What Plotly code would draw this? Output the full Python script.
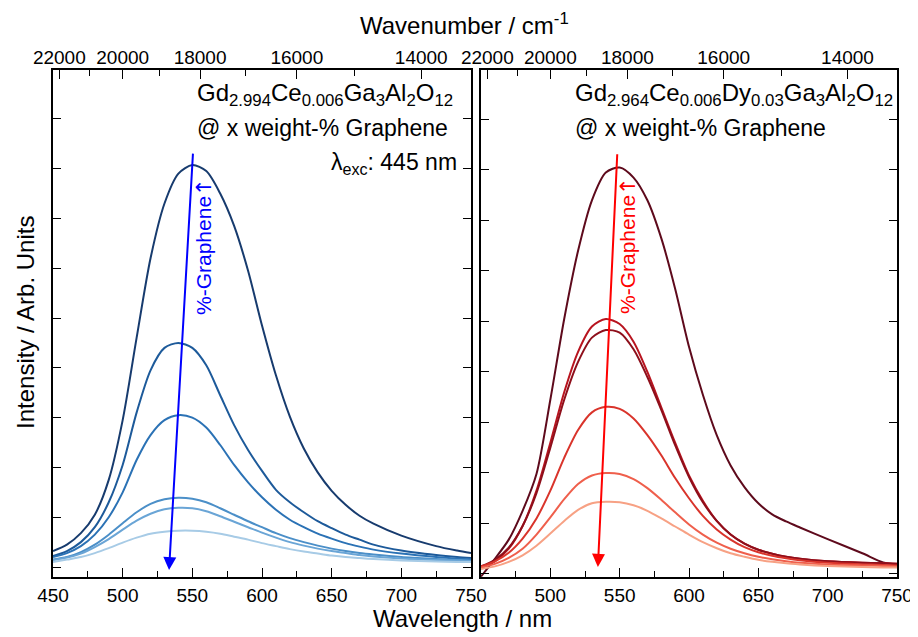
import plotly.graph_objects as go

# ---------------- data ----------------
wavelength = [450, 460, 470, 480, 490, 500, 510, 520, 530, 540, 550, 560, 570, 580,
              590, 600, 610, 620, 630, 640, 650, 660, 670, 680, 700, 725, 740, 750]

# Left panel: Gd2.994Ce0.006Ga3Al2O12, increasing graphene content (dark -> light)
left_1 = [0.32, 0.45, 0.68, 1.05, 1.75, 2.95, 4.60, 6.20, 7.30, 7.90, 8.07, 7.95, 7.50, 6.85,
          5.95, 4.85, 3.85, 3.02, 2.38, 1.90, 1.53, 1.25, 1.03, 0.87, 0.63, 0.42, 0.33, 0.28]
left_2 = [0.22, 0.32, 0.50, 0.80, 1.30, 2.05, 3.10, 3.95, 4.40, 4.50, 4.40, 4.05, 3.45, 2.85,
          2.35, 1.93, 1.55, 1.30, 1.10, 0.92, 0.78, 0.65, 0.55, 0.45, 0.33, 0.24, 0.20, 0.18]
left_3 = [0.20, 0.28, 0.42, 0.65, 1.00, 1.50, 2.15, 2.65, 2.95, 3.05, 3.00, 2.80, 2.45, 2.05,
          1.70, 1.40, 1.15, 0.95, 0.80, 0.67, 0.57, 0.48, 0.41, 0.35, 0.27, 0.20, 0.17, 0.15]
left_4 = [0.15, 0.20, 0.30, 0.45, 0.65, 0.88, 1.10, 1.27, 1.36, 1.39, 1.37, 1.30, 1.18, 1.05,
          0.92, 0.80, 0.68, 0.58, 0.50, 0.43, 0.37, 0.32, 0.28, 0.25, 0.20, 0.16, 0.14, 0.13]
left_5 = [0.14, 0.19, 0.27, 0.40, 0.56, 0.75, 0.93, 1.07, 1.16, 1.19, 1.18, 1.12, 1.02, 0.91,
          0.80, 0.69, 0.59, 0.50, 0.43, 0.37, 0.32, 0.28, 0.24, 0.21, 0.17, 0.14, 0.13, 0.12]
left_6 = [0.10, 0.15, 0.20, 0.28, 0.38, 0.49, 0.59, 0.67, 0.71, 0.73, 0.73, 0.71, 0.67, 0.61,
          0.55, 0.48, 0.42, 0.36, 0.31, 0.27, 0.23, 0.20, 0.18, 0.16, 0.13, 0.11, 0.10, 0.10]

# Right panel: Gd2.964Ce0.006Dy0.03Ga3Al2O12
right_1 = [-0.05, 0.30, 0.68, 1.25, 1.98, 3.45, 5.05, 6.40, 7.40, 7.95, 8.05, 7.85, 7.40, 6.65,
           5.65, 4.50, 3.55, 2.75, 2.15, 1.72, 1.40, 1.18, 1.04, 0.92, 0.69, 0.41, 0.23, 0.19]
right_2 = [0.12, 0.25, 0.50, 0.95, 1.65, 2.60, 3.60, 4.40, 4.90, 5.05, 4.95, 4.60, 4.00, 3.30,
           2.60, 1.95, 1.45, 1.05, 0.78, 0.60, 0.48, 0.40, 0.34, 0.30, 0.25, 0.22, 0.21, 0.20]
right_3 = [0.15, 0.28, 0.52, 0.95, 1.60, 2.50, 3.45, 4.20, 4.68, 4.83, 4.78, 4.45, 3.90, 3.25,
           2.55, 1.92, 1.42, 1.05, 0.78, 0.60, 0.48, 0.40, 0.34, 0.30, 0.25, 0.22, 0.21, 0.20]
right_4 = [0.15, 0.25, 0.42, 0.70, 1.10, 1.65, 2.30, 2.85, 3.20, 3.31, 3.27, 3.08, 2.75, 2.35,
           1.90, 1.50, 1.15, 0.88, 0.68, 0.53, 0.43, 0.36, 0.31, 0.27, 0.22, 0.19, 0.18, 0.17]
right_5 = [0.13, 0.20, 0.32, 0.50, 0.78, 1.12, 1.48, 1.78, 1.95, 2.00, 1.98, 1.88, 1.70, 1.47,
           1.22, 0.98, 0.78, 0.62, 0.50, 0.41, 0.34, 0.29, 0.25, 0.22, 0.19, 0.17, 0.16, 0.15]
right_6 = [0.10, 0.15, 0.24, 0.37, 0.56, 0.80, 1.05, 1.27, 1.40, 1.43, 1.42, 1.36, 1.25, 1.10,
           0.94, 0.78, 0.63, 0.51, 0.41, 0.34, 0.28, 0.24, 0.21, 0.19, 0.16, 0.14, 0.13, 0.13]

left_series = [left_1, left_2, left_3, left_4, left_5, left_6]
right_series = [right_1, right_2, right_3, right_4, right_5, right_6]

left_colors = ["#173b6e", "#1d5a9a", "#2b72b5", "#4b8fc8", "#6aa5d6", "#a7cbe6"]
right_colors = ["#5e0a1c", "#b8141f", "#8e0f1b", "#d9342b", "#ef5f4c", "#f7a184"]

bottom_ticks = [450, 500, 550, 600, 650, 700, 750]
bottom_minor = [475, 525, 575, 625, 675, 725]
wavenumber_ticks = [22000, 20000, 18000, 16000, 14000]
wavenumber_minor = [21000, 19000, 17000, 15000]

# ---------------- figure ----------------
FONT = "Liberation Sans, Arial, sans-serif"
fig = go.Figure()

for ys, c in zip(left_series, left_colors):
    fig.add_trace(go.Scatter(x=wavelength, y=ys, mode="lines", xaxis="x", yaxis="y",
                             line=dict(color=c, width=2, shape="spline", smoothing=0.8),
                             showlegend=False, hoverinfo="skip"))
for ys, c in zip(right_series, right_colors):
    fig.add_trace(go.Scatter(x=wavelength, y=ys, mode="lines", xaxis="x2", yaxis="y2",
                             line=dict(color=c, width=2, shape="spline", smoothing=0.8),
                             showlegend=False, hoverinfo="skip"))

# The page body adds an 8px margin; lay the figure out in page pixels minus that offset.
OFF = 8
PL, PR, PT, PB = 53, 897, 70, 577       # plot-area edges in page pixels
W, H = 918 - OFF, 637 - OFF
L, T = PL - OFF, PT - OFF
R = W - (PR - OFF)
B = H - (PB - OFF)
pw = PR - PL
ph = PB - PT
def px(x):
    return (x - PL) / pw
def py(y):
    return (PB - y) / ph

dom_left = [0, px(471)]
dom_right = [px(481), 1]

tickfont = dict(family=FONT, size=19, color="black")
common_x = dict(range=[450, 750], showline=True, linecolor="black", linewidth=1.5,
                ticks="inside", ticklen=9, tickwidth=1.2, tickcolor="black",
                showgrid=False, zeroline=False, tickfont=tickfont, mirror=True,
                ticklabelstandoff=0, ticklabeloverflow="allow",
                minor=dict(tickvals=bottom_minor, ticks="inside", ticklen=6,
                           tickwidth=1.2, tickcolor="black", showgrid=False))
wn_vals = [1e7 / w for w in wavenumber_ticks]
wn_minor = [1e7 / w for w in wavenumber_minor]
common_top = dict(range=[450, 750], side="top", showline=False, ticks="inside", ticklen=9,
                  tickwidth=1.2, tickcolor="black", showgrid=False, zeroline=False,
                  tickfont=tickfont, tickmode="array", tickvals=wn_vals,
                  ticktext=[str(w) for w in wavenumber_ticks], ticklabelstandoff=1,
                  minor=dict(tickvals=wn_minor, ticks="inside", ticklen=6,
                             tickwidth=1.2, tickcolor="black", showgrid=False))
common_y = dict(showline=True, linecolor="black", linewidth=1.5, mirror="ticks",
                ticks="inside", ticklen=8, tickwidth=1.2, tickcolor="black",
                showticklabels=False, showgrid=False, zeroline=False,
                tickmode="linear", tick0=0, dtick=1)

fig.update_layout(
    width=W, height=H, margin=dict(l=L, r=R, t=T, b=B, autoexpand=False),
    paper_bgcolor="white", plot_bgcolor="white",
    font=dict(family=FONT, color="black"),
    xaxis=dict(domain=dom_left, anchor="y", tickmode="array", tickvals=bottom_ticks,
               ticktext=[str(v) for v in bottom_ticks], **common_x),
    xaxis2=dict(domain=dom_right, anchor="y2", tickmode="array", tickvals=bottom_ticks,
                ticktext=[""] + [str(v) for v in bottom_ticks[1:]], **common_x),
    xaxis3=dict(overlaying="x", anchor="y", **common_top),
    xaxis4=dict(overlaying="x2", anchor="y2", **common_top),
    yaxis=dict(domain=[0, 1], anchor="x", range=[-0.2, 9.98], **common_y),
    yaxis2=dict(domain=[0, 1], anchor="x2", range=[-0.06, 9.98], **common_y),
)
# empty traces so the top (wavenumber) axes render
fig.add_trace(go.Scatter(x=[450], y=[None], xaxis="x3", yaxis="y", showlegend=False))
fig.add_trace(go.Scatter(x=[450], y=[None], xaxis="x4", yaxis="y2", showlegend=False))

ann_font = dict(family=FONT, size=23, color="black")
formula_font = dict(family=FONT, size=24, color="black")
title_font = dict(family=FONT, size=24, color="black")
arrow_glyph = "<span style='font-family:DejaVu Sans'>↑</span>"
annotations = [
    dict(text="Wavenumber / cm<sup>-1</sup>", x=px(464), y=py(24), xref="paper", yref="paper",
         showarrow=False, font=title_font, xanchor="center", yanchor="middle"),
    dict(text="Wavelength / nm", x=px(462), y=py(618), xref="paper", yref="paper",
         showarrow=False, font=title_font, xanchor="center", yanchor="middle"),
    dict(text="Intensity / Arb. Units", x=px(25), y=py(323), xref="paper", yref="paper",
         showarrow=False, font=title_font, textangle=-90,
         xanchor="center", yanchor="middle"),
    dict(text="Gd<sub>2.994</sub>Ce<sub>0.006</sub>Ga<sub>3</sub>Al<sub>2</sub>O<sub>12</sub>",
         x=px(195), y=py(94), xref="paper", yref="paper", showarrow=False, font=formula_font,
         xanchor="left", yanchor="middle"),
    dict(text="@ x weight-% Graphene", x=px(195), y=py(128), xref="paper", yref="paper",
         showarrow=False, font=ann_font, xanchor="left", yanchor="middle"),
    dict(text="λ<sub>exc</sub>: 445 nm", x=px(459), y=py(163), xref="paper", yref="paper",
         showarrow=False, font=ann_font, xanchor="right", yanchor="middle"),
    dict(text="Gd<sub>2.964</sub>Ce<sub>0.006</sub>Dy<sub>0.03</sub>Ga<sub>3</sub>Al<sub>2</sub>O<sub>12</sub>",
         x=px(573), y=py(94), xref="paper", yref="paper", showarrow=False, font=formula_font,
         xanchor="left", yanchor="middle"),
    dict(text="@ x weight-% Graphene", x=px(573), y=py(128), xref="paper", yref="paper",
         showarrow=False, font=ann_font, xanchor="left", yanchor="middle"),
    # trend arrows
    dict(x=533.3, y=-0.06, ax=550.5, ay=8.33, xref="x", yref="y", axref="x", ayref="y",
         showarrow=True, arrowhead=2, arrowsize=1.3, arrowwidth=2, arrowcolor="#0000ff", text=""),
    dict(x=534.3, y=0.14, ax=548.3, ay=8.34, xref="x2", yref="y2", axref="x2", ayref="y2",
         showarrow=True, arrowhead=2, arrowsize=1.3, arrowwidth=2, arrowcolor="#ff0000", text=""),
    dict(text="%-Graphene" + arrow_glyph, x=px(204), y=py(247), xref="paper", yref="paper",
         showarrow=False, textangle=-90, font=dict(family=FONT, size=21, color="#0000ff"),
         xanchor="center", yanchor="middle"),
    dict(text="%-Graphene" + arrow_glyph, x=px(628), y=py(246), xref="paper", yref="paper",
         showarrow=False, textangle=-90, font=dict(family=FONT, size=21, color="#ff0000"),
         xanchor="center", yanchor="middle"),
]
fig.update_layout(annotations=annotations)

fig.write_html("out.html")
